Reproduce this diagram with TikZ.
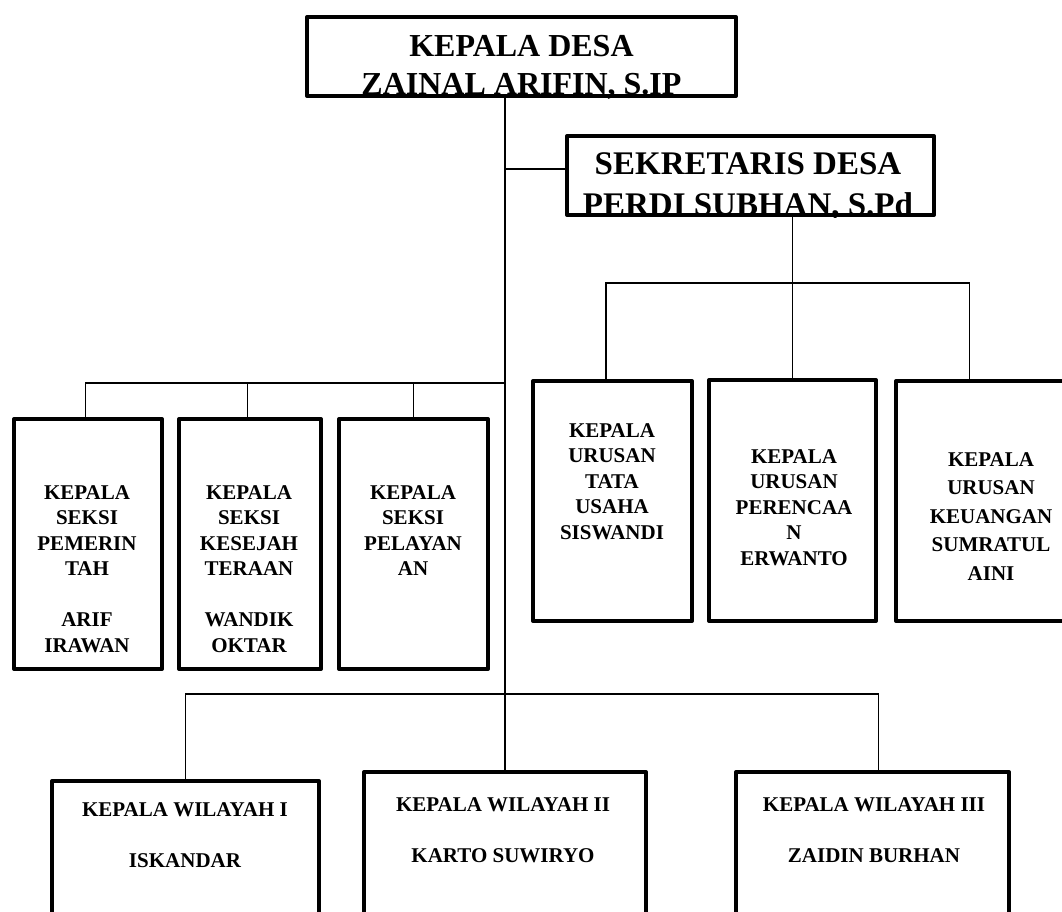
\documentclass[tikz,border=0pt]{standalone}
\usepackage{fontspec}
\setmainfont{Liberation Serif}

\begin{document}
\begin{tikzpicture}[x=1pt,y=-1pt]
    \tikzstyle{every node}+=[inner sep=0pt]
    \tikzstyle{kotak}=[draw=black, line width=4pt, line join=round]
    \tikzstyle{garis}=[black, line width=1.3pt]
    \tikzstyle{judul}=[align=center, anchor=north, font=\fontsize{32}{38}\selectfont\bfseries]
    \tikzstyle{judulsek}=[align=center, anchor=north, font=\fontsize{33}{41}\selectfont\bfseries]
    \tikzstyle{isi}=[align=center, anchor=north, font=\fontsize{21}{25.5}\selectfont\bfseries]
    \tikzstyle{isibawah}=[align=center, anchor=north, font=\fontsize{21}{25}\selectfont\bfseries]
    \useasboundingbox (0,0) rectangle (1062,911);
    % kotak
    \draw (521.5,56.5) node [kotak, minimum width=429pt, minimum height=79pt] (kades) {};
    \draw (750.5,175.5) node [kotak, minimum width=367pt, minimum height=79pt] (sekdes) {};
    \draw (88,544) node [kotak, minimum width=148pt, minimum height=250pt] (seksi1) {};
    \draw (250,544) node [kotak, minimum width=142pt, minimum height=250pt] (seksi2) {};
    \draw (413.5,544) node [kotak, minimum width=149pt, minimum height=250pt] (seksi3) {};
    \draw (612.5,501) node [kotak, minimum width=159pt, minimum height=240pt] (kaur1) {};
    \draw (792.5,500.5) node [kotak, minimum width=167pt, minimum height=241pt] (kaur2) {};
    \draw (991,501) node [kotak, minimum width=190pt, minimum height=240pt] (kaur3) {};
    \draw (185.5,858.5) node [kotak, minimum width=267pt, minimum height=155pt] (wil1) {};
    \draw (505,854) node [kotak, minimum width=282pt, minimum height=164pt] (wil2) {};
    \draw (872.5,854) node [kotak, minimum width=273pt, minimum height=164pt] (wil3) {};
    % garis
    \draw [garis] (kades.south -| wil2.north) -- (wil2.north);
    \draw [garis] (sekdes.178.3) -- (sekdes.178.3 -| wil2.north);
    \draw [garis] (sekdes.south -| kaur2.north) -- (kaur2.north);
    \draw [garis] (kaur1.93.5) -- ++(0,-96) coordinate (barkanan) -| (kaur3.100.6);
    \draw [garis] (seksi1.91.2) -- ++(0,-34) coordinate (barkiri) -- (barkiri -| wil2.north);
    \draw [garis] (seksi2.91.2) -- (seksi2.91.2 |- barkiri);
    \draw [garis] (seksi3.90.8) -- (seksi3.90.8 |- barkiri);
    \draw [garis] (wil1.north) -- ++(0,-85) coordinate (barbawah) -| (wil3.86.4);
    % tulisan
    \begin{scope}
    \clip (kades.south west) rectangle (kades.north east);
    \draw (521.5,35) node [judul] (tkades) {KEPALA DESA\\ZAINAL ARIFIN, S.IP};
    \end{scope}
    \begin{scope}
    \clip (sekdes.south west) rectangle (sekdes.north east);
    \draw (748,152) node [judulsek] (tsekdes) {SEKRETARIS DESA\\PERDI SUBHAN, S.Pd};
    \end{scope}
    \draw (87,485) node [isi] (tseksi1) {KEPALA\\SEKSI\\PEMERIN\\TAH\\[25.5pt]ARIF\\IRAWAN};
    \draw (249,485) node [isi] (tseksi2) {KEPALA\\SEKSI\\KESEJAH\\TERAAN\\[25.5pt]WANDIK\\OKTAR};
    \draw (413,485) node [isi] (tseksi3) {KEPALA\\SEKSI\\PELAYAN\\AN};
    \draw (612,423) node [isi] (tkaur1) {KEPALA\\URUSAN\\TATA\\USAHA\\SISWANDI};
    \draw (794,449) node [isi] (tkaur2) {KEPALA\\URUSAN\\PERENCAA\\N\\ERWANTO};
    \draw (991,452) node [isi, font=\fontsize{21}{28.5}\selectfont\bfseries] (tkaur3) {KEPALA\\URUSAN\\KEUANGAN\\SUMRATUL\\AINI};
    \draw (185,802) node [isibawah] (twil1) {KEPALA WILAYAH I\\[26pt]ISKANDAR};
    \draw (503,797) node [isibawah] (twil2) {KEPALA WILAYAH II\\[26pt]KARTO SUWIRYO};
    \draw (874,797) node [isibawah] (twil3) {KEPALA WILAYAH III\\[26pt]ZAIDIN BURHAN};
\end{tikzpicture}
\end{document}
